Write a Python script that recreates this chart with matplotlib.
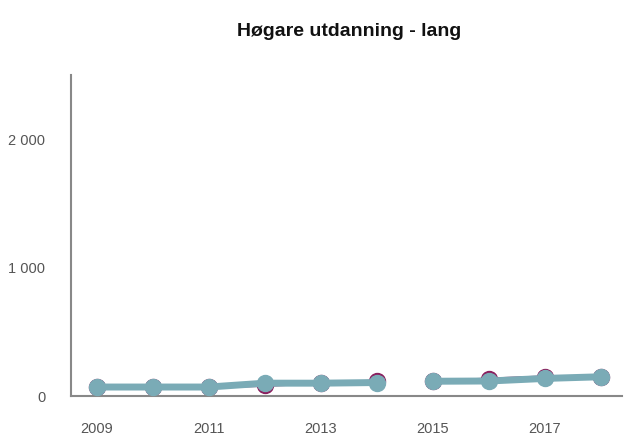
import matplotlib.pyplot as plt
import numpy as np

plt.rcParams['font.family'] = ['Liberation Sans', 'DejaVu Sans']

years = [2009, 2010, 2011, 2012, 2013, 2014, 2015, 2016, 2017, 2018]
purple_vals = [70, 70, 70, 82, 100, 118, 117, 133, 150, 150]
teal_vals = [70, 70, 70, 100, 100, 105, 115, 117, 137, 150]
xticks = [2009, 2011, 2013, 2015, 2017]
yticks = [0, 1000, 2000]
ytick_labels = ["0", "1 000", "2 000"]
brk = 6  # series break between 2014 and 2015

fig = plt.figure(figsize=(6.24, 4.37), dpi=100)
ax = fig.add_axes([0.1138, 0.0938, 0.883, 0.734])

purple = "#8a1f5e"
teal = "#7aabb6"

for s, e in [(0, brk), (brk, len(years))]:
    ax.plot(years[s:e], purple_vals[s:e], color=purple, lw=2, marker="o",
            ms=11.5, mfc=purple, mec=purple, zorder=2)
    ax.plot(years[s:e], teal_vals[s:e], color=teal, lw=5, marker="o",
            ms=11.5, mfc=teal, mec=teal, zorder=3, solid_capstyle="round")

ax.set_xlim(2008.54, 2018.375)
ax.set_ylim(0, 2500)
ax.set_xticks(xticks)
ax.set_xticklabels([str(x) for x in xticks])
ax.set_yticks(yticks)
ax.set_yticklabels(ytick_labels)
ax.tick_params(axis="both", length=0, labelsize=10.5, colors="#555555")
ax.tick_params(axis="x", pad=19)
ax.tick_params(axis="y", pad=18.5)

for side in ["top", "right"]:
    ax.spines[side].set_visible(False)
for side in ["left", "bottom"]:
    ax.spines[side].set_color("#888888")
    ax.spines[side].set_linewidth(1.5)

fig.text(0.56, 0.927, "Høgare utdanning - lang", ha="center", va="center",
         fontsize=14, fontweight="bold", color="#111111")

fig.savefig("out.png", dpi=100)
